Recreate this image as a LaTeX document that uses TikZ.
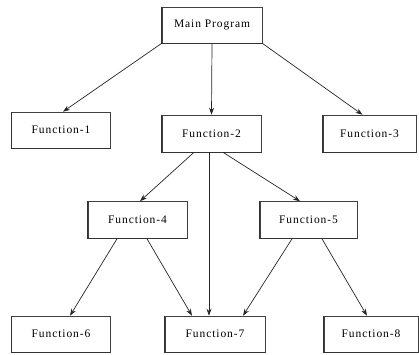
\documentclass[tikz,border=0pt]{standalone}
\usepackage{fontspec}
\newfontfamily\boxfont[LetterSpace=8]{Liberation Serif}
\usetikzlibrary{arrows.meta}
\tikzset{
  fbox/.style={draw=black!75, line width=0.6pt, fill=white, minimum height=36pt, inner sep=0pt,
    font=\boxfont\fontsize{11.5}{12}\selectfont},
  conn/.style={draw=black!85, line width=0.7pt, -{Stealth[length=7pt,width=5pt]}}
}
\begin{document}
\begin{tikzpicture}[x=1pt,y=-1pt]
\useasboundingbox (0,0) rectangle (419,354);
\node[fbox, minimum width=100pt] (main) at (212,25) {Main Program};
\node[fbox, minimum width=99pt] (f1) at (61,130) {Function-1};
\node[fbox, minimum width=99pt, minimum height=37pt] (f2) at (211.5,133.5) {Function-2};
\node[fbox, minimum width=93pt, minimum height=37pt] (f3) at (369.5,133.5) {Function-3};
\node[fbox, minimum width=99pt, minimum height=37pt] (f4) at (137.5,220) {Function-4};
\node[fbox, minimum width=97pt, minimum height=37pt] (f5) at (308.5,220) {Function-5};
\node[fbox, minimum width=99pt] (f6) at (61,334) {Function-6};
\node[fbox, minimum width=100pt] (f7) at (215,334) {Function-7};
\node[fbox, minimum width=94pt] (f8) at (371,334) {Function-8};
\foreach \n in {main,f1,f2,f3,f4,f5,f6,f7,f8}{
  \draw[line width=1.1pt, black!80] (\n.north west) -- (\n.south west) -- (\n.south east);
}
\draw[conn] (main.south west) -- ([xshift=2pt]f1.north);
\draw[conn] (main.south) -- (f2.north);
\draw[conn] (main.south east) -- ([xshift=-7pt]f3.north);
\draw[conn] ([xshift=-17.5pt]f2.south) -- ([xshift=2.5pt]f4.north);
\draw[conn] ([xshift=-2.5pt]f2.south) -- ([xshift=-2.5pt]f2.south |- f7.north);
\draw[conn] ([xshift=11.5pt]f2.south) -- ([xshift=-8.5pt]f5.north);
\draw[conn] ([xshift=-20.5pt]f4.south) -- ([xshift=9pt]f6.north);
\draw[conn] ([xshift=9.5pt]f4.south) -- ([xshift=-23pt]f7.north);
\draw[conn] ([xshift=-16.5pt]f5.south) -- ([xshift=28pt]f7.north);
\draw[conn] ([xshift=13.5pt]f5.south) -- ([xshift=-4pt]f8.north);
\end{tikzpicture}
\end{document}
